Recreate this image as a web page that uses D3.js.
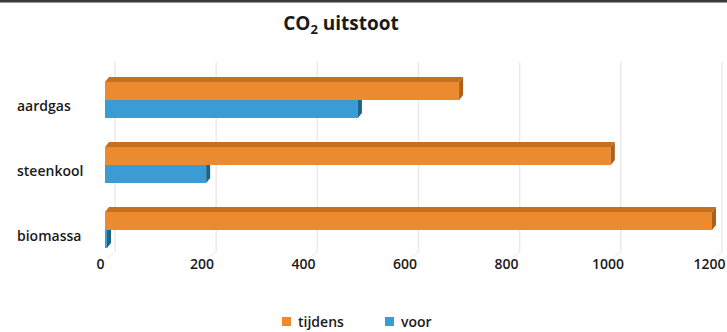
<!DOCTYPE html>
<html>
<head>
<meta charset="utf-8">
<script src="https://cdn.jsdelivr.net/npm/d3@7"></script>
<style>
  html, body { margin: 0; padding: 0; background: #fff; }
  svg { display: block; }
  text { font-family: "Open Sans", "DejaVu Sans", sans-serif; fill: #1a1a1a; }
</style>
</head>
<body>
<svg id="chart" width="727" height="332"></svg>
<script>
// CO2-uitstoot per brandstof, voor en tijdens
const categories = ["aardgas", "steenkool", "biomassa"];
const seriesNames = ["tijdens", "voor"];
const tijdens = [700, 1000, 1200];
const voor = [500, 200, 4];
const tickValues = [0, 200, 400, 600, 800, 1000, 1200];

const colors = {
  tijdens: { front: "#EB8A2F", top: "#C4701E", side: "#AE6019" },
  voor:    { front: "#3B9BD5", top: "#2C7DB0", side: "#1D6382" }
};

const svg = d3.select("#chart");
const W = 727, H = 332;

// frame line along the top
svg.append("rect").attr("x", 0).attr("y", 0).attr("width", W).attr("height", 2.5).attr("fill", "#3a3a3a");

// title
const title = svg.append("text")
  .attr("x", 341).attr("y", 30)
  .attr("text-anchor", "middle")
  .style("font-size", "19px").style("font-weight", "bold");
title.append("tspan").text("CO");
title.append("tspan").text("2").attr("dy", 4).style("font-size", "13px");
title.append("tspan").text(" uitstoot").attr("dy", -4);

// scales
const depthX = 4, depthY = 5;     // 3D offset of bar tops/ends
const wallX = 10;                 // back wall offset of gridlines
const x = d3.scaleLinear().domain([0, 1200]).range([105, 712]);
const xLabel = d3.scaleLinear().domain([0, 1200]).range([100, 709]);
const y = d3.scaleBand().domain(categories).range([67.5, 262.5]);
const ySub = d3.scaleBand().domain(seriesNames).range([-18, 18]);

// gridlines on the back wall, plus the floor edges
const grid = svg.append("g");
grid.selectAll("line.v").data(tickValues).join("line")
  .attr("class", "v")
  .attr("x1", d => x(d) + wallX).attr("x2", d => x(d) + wallX)
  .attr("y1", 62).attr("y2", 252)
  .attr("stroke", "#ebebeb").attr("stroke-width", 1.5);
grid.selectAll("line.f").data(tickValues).join("line")
  .attr("class", "f")
  .attr("x1", d => x(d) + wallX).attr("x2", d => x(d) + wallX - 8)
  .attr("y1", 252).attr("y2", 258)
  .attr("stroke", "#efefef").attr("stroke-width", 1.2);

// bars: voor first so the tijdens bars sit over their top faces
const rows = [];
categories.forEach((c, i) => {
  rows.push({ cat: c, s: "voor", v: voor[i] });
  rows.push({ cat: c, s: "tijdens", v: tijdens[i] });
});

const bars = svg.append("g").selectAll("g").data(rows).join("g");
bars.each(function(d) {
  const g = d3.select(this);
  const x0 = x(0), x1 = x(d.v);
  const y0 = y(d.cat) + y.bandwidth() / 2 + ySub(d.s);
  const h = ySub.bandwidth();
  const col = colors[d.s];
  // top face
  g.append("path")
    .attr("d", `M${x0},${y0} L${x0 + depthX},${y0 - depthY} L${x1 + depthX},${y0 - depthY} L${x1},${y0} Z`)
    .attr("fill", col.top);
  // front face
  g.append("rect")
    .attr("x", x0).attr("y", y0).attr("width", x1 - x0).attr("height", h)
    .attr("fill", col.front);
  // end face
  g.append("path")
    .attr("d", `M${x1},${y0} L${x1 + depthX},${y0 - depthY} L${x1 + depthX},${y0 + h - depthY} L${x1},${y0 + h} Z`)
    .attr("fill", col.side);
});

// category labels
svg.append("g").selectAll("text").data(categories).join("text")
  .attr("x", 17)
  .attr("y", d => y(d) + y.bandwidth() / 2 + 11)
  .style("font-size", "14px").style("font-weight", "600")
  .text(d => d);

// value axis labels
const axis = d3.axisBottom(xLabel).tickValues(tickValues).tickSize(0).tickPadding(0).tickFormat(d3.format("d"));
const ax = svg.append("g").attr("transform", "translate(0,259)").call(axis);
ax.select(".domain").remove();
ax.selectAll("text")
  .style("font-size", "14px").style("font-weight", "600")
  .style("font-family", "'Open Sans', sans-serif").attr("fill", "#1a1a1a");

// legend
const legendItems = [
  { name: "tijdens", x: 282, color: colors.tijdens.front },
  { name: "voor", x: 385, color: colors.voor.front }
];
const lg = svg.append("g").selectAll("g").data(legendItems).join("g")
  .attr("transform", d => `translate(${d.x},317)`);
lg.append("rect").attr("width", 9).attr("height", 9).attr("fill", d => d.color);
lg.append("text").attr("x", 16).attr("y", 9.5)
  .style("font-size", "14px").style("font-weight", "600")
  .text(d => d.name);
</script>
</body>
</html>
